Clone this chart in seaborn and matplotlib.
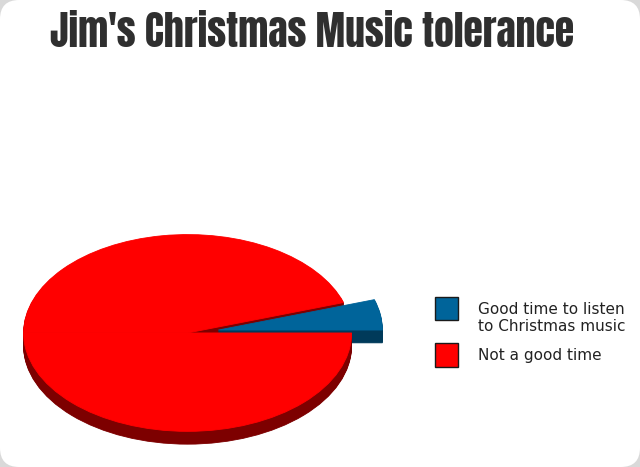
import numpy as np
import matplotlib.pyplot as plt
import seaborn as sns
from matplotlib.patches import FancyBboxPatch

# data
labels = ["Good time to listen\nto Christmas music", "Not a good time"]
values = [5, 95]
top_colors = ["#00649a", "#ff0000"]
side_colors = ["#003a5a", "#7d0000"]
title = "Jim's Christmas Music tolerance"

sns.set_theme(style="white")
plt.rcParams['font.family'] = ['DejaVu Sans']

fig = plt.figure(figsize=(6.4, 4.67), dpi=100)
fig.patch.set_facecolor('#d9d9d9')
# white card with rounded corners
fig.patches.append(FancyBboxPatch((0, 0), 1, 1, boxstyle="round,pad=0,rounding_size=0.03",
                                  mutation_aspect=640 / 467, transform=fig.transFigure,
                                  facecolor='white', edgecolor='none', zorder=-5))

ax = fig.add_axes([0.0112, 0.0131, 0.6535, 0.5057])

# split the red slice into a back half and a front half so the 3d layers stack right
parts = [values[0], 50 - values[0], 50]
part_top = [top_colors[0], top_colors[1], top_colors[1]]
part_side = [side_colors[0], side_colors[1], side_colors[1]]
explode = [0.19, 0, 0]
# draw order: red back, blue, red front
z_side = [3, 1, 5]
z_top = [4, 2, 6]

depth = 0.13
for d in np.linspace(depth, 0, 15):
    cols = part_top if d == 0 else part_side
    zs = z_top if d == 0 else z_side
    wedges, _ = ax.pie(parts, colors=cols, explode=explode, startangle=0,
                       center=(0, -d), radius=1, wedgeprops=dict(linewidth=0.6))
    for w, z in zip(wedges, zs):
        w.set_edgecolor(w.get_facecolor())
        w.set_zorder(z)
    if d == 0:
        top_wedges = wedges

ax.set_aspect('auto')
ax.set_xlim(-1.1, 1.45)
ax.set_ylim(-1.3, 1.1)
ax.axis('off')

leg = fig.legend([top_wedges[0], top_wedges[2]], labels, loc='upper left',
                 bbox_to_anchor=(0.658, 0.383), frameon=False, fontsize=11,
                 handlelength=1.5, handleheight=1.95, handletextpad=1.3,
                 labelspacing=0.6)
for h in leg.legend_handles:
    h.set_edgecolor('#1a1a1a')
    h.set_linewidth(1)
# first box sits at the top of its two-line label, not centred on it
leg.legend_handles[0].set_y(leg.legend_handles[0].get_y() + 7.5)
for t in leg.get_texts():
    t.set_color('#222222')

fig.text(0.487, 0.8995, title, ha='center', va='baseline', fontsize=28.5,
         color='#2f2f2f', family=['Anton', 'DejaVu Sans'])

fig.savefig('out.png', dpi=100, facecolor=fig.get_facecolor())
